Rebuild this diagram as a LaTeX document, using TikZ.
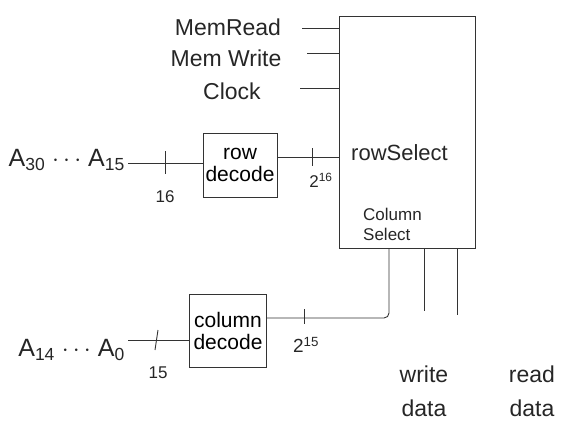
\documentclass[tikz,border=0pt]{standalone}
\usepackage{fontspec}
\setmainfont{Liberation Sans}
\usetikzlibrary{calc}
\begin{document}
\begin{tikzpicture}[x=1pt,y=-1pt,
  wire/.style={draw=black!80, line width=0.9pt},
  boxst/.style={draw=black!80, line width=0.9pt, align=center, inner sep=0pt},
  lbl/.style={font=\fontsize{17}{19}\selectfont, text=black!85, inner sep=0pt},
  slbl/.style={font=\fontsize{17}{20}\selectfont, text=black!85, inner sep=0pt, align=left},
  busmark/.style={draw=black!80, line width=0.9pt}]
\useasboundingbox (0,0) rectangle (569,426);
% main memory block
\node[boxst, minimum width=136pt, minimum height=232pt] (mem) at (407,132) {};
% control inputs
\node[lbl, font=\fontsize{23}{25}\selectfont] (mr) at (228,27) {MemRead};
\node[lbl, font=\fontsize{23}{25}\selectfont] (mw) at (226,58) {Mem Write};
\node[lbl, font=\fontsize{23}{25}\selectfont] (ck) at (232,91) {Clock};
\coordinate (mr1) at (302,28);
\coordinate (mw1) at (307,53);
\coordinate (ck1) at (300,88);
\draw[wire] (mr1) -- (mr1 -| mem.west);
\draw[wire] (mw1) -- (mw1 -| mem.west);
\draw[wire] (ck1) -- (ck1 -| mem.west);
% labels inside memory
\node[lbl, font=\fontsize{22}{24}\selectfont, anchor=west] (rs) at (351,153) {rowSelect};
\node[slbl, anchor=west] (cs) at (363,224) {Column\\Select};
% row decoder
\node[boxst, minimum width=74pt, minimum height=64pt, font=\fontsize{21}{22}\selectfont] (rd) at (240,165) {row\\decode};
\node[lbl, font=\fontsize{25}{27}\selectfont, anchor=east] (ahi) at (125,160) {A\textsubscript{30} $\cdots$ A\textsubscript{15}};
\coordinate (ahie) at (128,163);
\draw[wire] (ahie) -- (ahie -| rd.west);
\draw[busmark] (165,151) -- (165,174);
\node[lbl, font=\fontsize{17}{19}\selectfont] (n16) at (165,197) {16};
\coordinate (rdo) at ([yshift=8pt]rd.east);
\draw[wire] (rdo) -- (rdo -| mem.west);
\draw[busmark] (312,148) -- (312,166);
\node[lbl, font=\fontsize{17}{19}\selectfont] (n216) at (321,180) {2\textsuperscript{16}};
% column decoder
\node[boxst, minimum width=77pt, minimum height=73pt, font=\fontsize{21}{22}\selectfont] (cd) at (228,331) {column\\decode};
\node[lbl, font=\fontsize{25}{27}\selectfont, anchor=east] (alo) at (125,350) {A\textsubscript{14} $\cdots$ A\textsubscript{0}};
\coordinate (aloe) at (128,340);
\draw[wire] (aloe) -- (aloe -| cd.west);
\draw[busmark] (158,330) -- (155,350);
\node[lbl, font=\fontsize{17}{19}\selectfont] (n15) at (158,373) {15};
\coordinate (cdo) at ([yshift=13pt]cd.east);
\coordinate (csin) at (389,248);
\draw[wire, rounded corners=5pt] (cdo) -- (cdo -| csin) -- (csin);
\draw[busmark] (304,309) -- (304,324);
\node[lbl, font=\fontsize{19}{21}\selectfont] (n215) at (306,345) {2\textsuperscript{15}};
% data lines
\coordinate (wd) at (424,311);
\coordinate (rdd) at (457,315);
\draw[wire] (wd |- mem.south) -- (wd);
\draw[wire] (rdd |- mem.south) -- (rdd);
\node[lbl, align=center, font=\fontsize{23}{34}\selectfont] (wdl) at (424,391) {write\\data};
\node[lbl, align=center, font=\fontsize{23}{34}\selectfont] (rdl) at (532,391) {read\\data};
\end{tikzpicture}
\end{document}
